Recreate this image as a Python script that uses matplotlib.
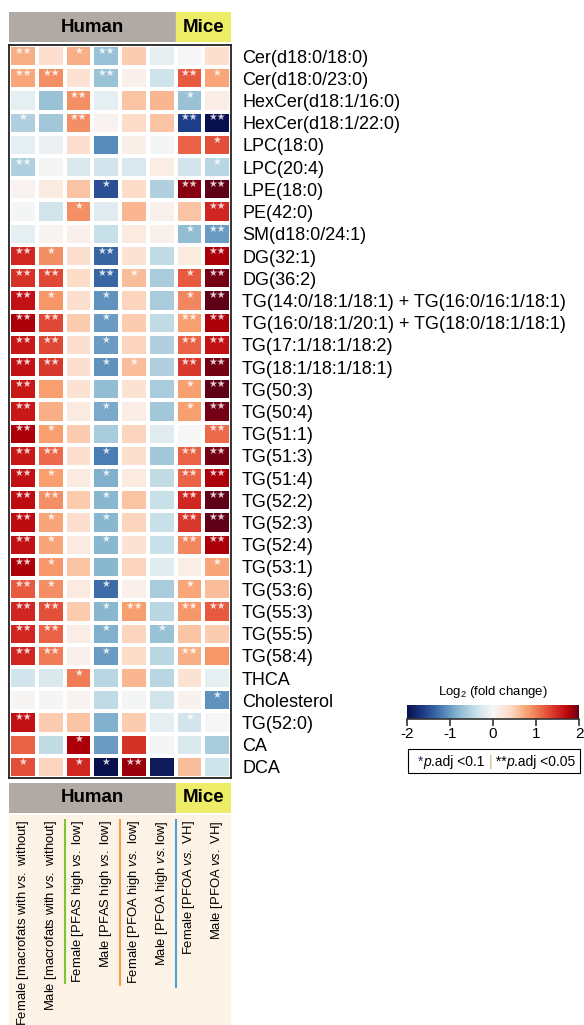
import matplotlib as mpl
import matplotlib.pyplot as plt
import numpy as np
from matplotlib.colors import LinearSegmentedColormap, Normalize
from matplotlib.patches import Rectangle

mpl.rcParams['font.family'] = 'Liberation Sans'
mpl.rcParams['mathtext.fontset'] = 'custom'
mpl.rcParams['mathtext.rm'] = 'Liberation Sans'
mpl.rcParams['mathtext.it'] = 'Liberation Sans:italic'

# row / column labels
lipids = ['Cer(d18:0/18:0)', 'Cer(d18:0/23:0)', 'HexCer(d18:1/16:0)', 'HexCer(d18:1/22:0)',
          'LPC(18:0)', 'LPC(20:4)', 'LPE(18:0)', 'PE(42:0)', 'SM(d18:0/24:1)',
          'DG(32:1)', 'DG(36:2)',
          'TG(14:0/18:1/18:1) + TG(16:0/16:1/18:1)',
          'TG(16:0/18:1/20:1) + TG(18:0/18:1/18:1)',
          'TG(17:1/18:1/18:2)', 'TG(18:1/18:1/18:1)', 'TG(50:3)', 'TG(50:4)', 'TG(51:1)',
          'TG(51:3)', 'TG(51:4)', 'TG(52:2)', 'TG(52:3)', 'TG(52:4)', 'TG(53:1)', 'TG(53:6)',
          'TG(55:3)', 'TG(55:5)', 'TG(58:4)', 'THCA', 'Cholesterol', 'TG(52:0)', 'CA', 'DCA']

columns = ['Female [macrofats with $\\mathit{vs.}$ without]',
           'Male [macrofats with $\\mathit{vs.}$ without]',
           'Female [PFAS high $\\mathit{vs.}$ low]',
           'Male [PFAS high $\\mathit{vs.}$ low]',
           'Female [PFOA high $\\mathit{vs.}$ low]',
           'Male [PFOA high $\\mathit{vs.}$low]',
           'Female [PFOA $\\mathit{vs.}$ VH]',
           'Male [PFOA $\\mathit{vs.}$ VH]']

# log2 fold change, one list per column
f_macro = [0.7, 0.75, -0.15, -0.55, -0.15, -0.55, 0.05, -0.03, -0.15, 1.5, 1.45, 1.65, 1.8,
           1.6, 1.65, 1.6, 1.6, 1.8, 1.6, 1.65, 1.7, 1.7, 1.65, 1.8, 1.2, 1.5, 1.5, 1.5,
           -0.3, 0.02, 1.65, 1.15, 1.25]
m_macro = [0.35, 0.9, -0.7, -0.65, -0.1, -0.03, 0.2, -0.3, 0.05, 0.9, 1.3, 0.85, 1.3,
           1.3, 1.4, 0.8, 0.7, 0.8, 1.1, 0.8, 0.9, 0.75, 0.75, 0.85, 0.9, 1.25, 1.15, 1.0,
           -0.25, -0.03, 0.5, -0.45, 0.45]
f_pfas = [0.7, 0.3, 0.9, 0.9, 0.35, -0.25, 0.55, 0.9, 0.1, 0.35, 0.4, 0.35, 0.5,
          0.35, 0.35, 0.3, 0.2, 0.5, 0.35, 0.2, 0.5, 0.35, 0.2, 0.55, 0.2, 0.5, 0.15, 0.1,
          1.0, 0.05, 0.55, 1.8, 1.5]
m_pfas = [-0.7, -0.7, -0.15, 0.05, -1.1, -0.3, -1.5, -0.2, -0.4, -1.35, -1.35, -1.05, -1.0,
          -1.0, -1.05, -0.75, -0.9, -0.6, -1.2, -0.85, -0.8, -0.8, -0.8, -0.8, -1.3, -0.8,
          -0.85, -1.0, -0.5, -0.45, -0.85, -1.0, -2.0]
f_pfoa = [0.5, 0.1, 0.55, 0.4, 0.12, -0.25, 0.4, 0.65, 0.2, 0.3, 0.6, 0.45, 0.5,
          0.45, 0.6, 0.3, 0.15, 0.45, 0.35, 0.2, 0.55, 0.45, 0.3, 0.45, 0.1, 0.8, 0.45, 0.4,
          0.65, -0.03, 0.5, 1.45, 1.85]
m_pfoa = [-0.15, -0.35, 0.65, 0.55, -0.02, 0.15, -0.55, 0.1, 0.1, -0.45, -0.6, -0.6, -0.45,
          -0.55, -0.55, -0.6, -0.65, -0.2, -0.65, -0.45, -0.4, -0.4, -0.4, -0.2, -0.6, -0.5,
          -0.7, -0.5, -0.5, -0.3, -0.15, -0.03, -1.9]
f_mice = [0.0, 1.2, -0.7, -1.6, 1.15, -0.3, 1.9, 0.55, -0.75, 0.2, 1.2, 0.95, 0.8,
          1.15, 1.4, 0.8, 0.8, 0.0, 1.15, 1.15, 1.5, 1.4, 0.95, 0.15, 0.75, 0.85, 0.55, 0.7,
          0.3, 0.08, -0.3, -0.25, 0.6]
m_mice = [0.35, 0.75, 0.15, -2.0, 1.25, -0.5, 2.0, 1.5, -1.0, 1.8, 1.95, 2.0, 1.8,
          1.65, 1.95, 2.0, 1.95, 1.1, 1.95, 1.8, 2.0, 2.0, 1.8, 0.75, 0.6, 1.2, 0.5, 0.85,
          -0.15, -1.05, 0.0, -0.6, -0.35]

# significance: 1 = *p.adj<0.1, 2 = **p.adj<0.05
sig_f_macro = [2, 2, 0, 1, 0, 2, 0, 0, 0, 2, 2, 2, 2, 2, 2, 2, 2, 2, 2, 2, 2, 2, 2, 2, 2, 2, 2, 2, 0, 0, 2, 0, 1]
sig_m_macro = [0, 2, 0, 0, 0, 0, 0, 0, 0, 1, 2, 1, 2, 2, 2, 0, 0, 1, 2, 1, 2, 1, 1, 1, 1, 2, 2, 2, 0, 0, 0, 0, 0]
sig_f_pfas = [1, 0, 2, 2, 0, 0, 0, 1, 0, 0, 0, 0, 0, 0, 0, 0, 0, 0, 0, 0, 0, 0, 0, 0, 0, 0, 0, 0, 1, 0, 0, 1, 1]
sig_m_pfas = [2, 2, 0, 0, 0, 0, 1, 0, 0, 2, 2, 1, 1, 1, 1, 0, 1, 0, 1, 1, 1, 1, 1, 0, 1, 1, 1, 1, 0, 0, 0, 0, 1]
sig_f_pfoa = [0, 0, 0, 0, 0, 0, 0, 0, 0, 0, 1, 0, 0, 0, 1, 0, 0, 0, 0, 0, 0, 0, 0, 0, 0, 2, 0, 0, 0, 0, 0, 0, 2]
sig_m_pfoa = [0, 0, 0, 0, 0, 0, 0, 0, 0, 0, 0, 0, 0, 0, 0, 0, 0, 0, 0, 0, 0, 0, 0, 0, 0, 0, 1, 0, 0, 0, 0, 0, 0]
sig_f_mice = [0, 2, 1, 2, 0, 0, 2, 0, 1, 0, 1, 1, 2, 2, 2, 1, 1, 0, 2, 2, 2, 2, 2, 0, 1, 2, 0, 2, 0, 0, 1, 0, 0]
sig_m_mice = [0, 1, 0, 2, 1, 1, 2, 2, 2, 2, 2, 2, 2, 2, 2, 2, 2, 2, 2, 2, 2, 2, 2, 1, 0, 2, 0, 0, 0, 1, 0, 0, 0]

values = np.array([f_macro, m_macro, f_pfas, m_pfas, f_pfoa, m_pfoa, f_mice, m_mice]).T
sigs = [sig_f_macro, sig_m_macro, sig_f_pfas, sig_m_pfas, sig_f_pfoa, sig_m_pfoa, sig_f_mice, sig_m_mice]

# colour ramp sampled from the reference colour key
cmap = LinearSegmentedColormap.from_list('rdbu', [
    (0.00, '#08104d'), (0.10, '#1f3f8a'), (0.20, '#4a7db3'), (0.30, '#8ab8d0'),
    (0.40, '#c8e0e8'), (0.50, '#f7f7f7'), (0.60, '#fddcc8'), (0.70, '#f8a070'),
    (0.80, '#e85a40'), (0.90, '#c81818'), (0.95, '#b00008'), (1.00, '#600018')])

W, H = 584, 1025
fig = plt.figure(figsize=(W / 100, H / 100), dpi=100)


def box(x0, y0, x1, y1):
    # pixel box -> figure fraction
    return [x0 / W, 1 - y1 / H, (x1 - x0) / W, (y1 - y0) / H]


# heatmap
ax = fig.add_axes(box(9, 45, 231, 778))
ax.pcolormesh(values, cmap=cmap, vmin=-2, vmax=2, edgecolors='white', linewidth=1.5)
ax.set_xlim(0, 8)
ax.set_ylim(len(lipids), 0)
ax.set_xticks([])
ax.yaxis.tick_right()
ax.set_yticks(np.arange(len(lipids)) + 0.5)
ax.set_yticklabels(lipids, fontsize=13)
ax.tick_params(axis='y', length=0, pad=8)
for s in ax.spines.values():
    s.set_linewidth(1.3)
    s.set_edgecolor('#222222')

for j, sig in enumerate(sigs):
    for i, s in enumerate(sig):
        if s:
            ax.text(j + 0.5, i + 0.26, '\u2605' * s, ha='center', va='center', color='white',
                    alpha=0.8, fontsize=7, family='DejaVu Sans')

# Human / Mice headers (top and bottom)
for y0, y1 in [(12, 42), (783, 813)]:
    hx = fig.add_axes(box(9, y0, 231, y1))
    hx.set_xlim(0, 8)
    hx.set_ylim(0, 1)
    hx.axis('off')
    hx.add_patch(Rectangle((0, 0), 6, 1, color='#b1aaa4'))
    hx.add_patch(Rectangle((6, 0), 2, 1, color='#ecec66'))
    hx.text(3, 0.5, 'Human', ha='center', va='center', fontsize=13.5, fontweight='bold')
    hx.text(7, 0.5, 'Mice', ha='center', va='center', fontsize=13.5, fontweight='bold')

# column labels
lx = fig.add_axes(box(9, 815, 231, 1025))
lx.set_xlim(0, 8)
lx.set_ylim(210, 0)
lx.set_facecolor('#fdf3e6')
lx.set_xticks([])
lx.set_yticks([])
for s in lx.spines.values():
    s.set_visible(False)
for j, lab in enumerate(columns):
    lx.text(j + 0.5, 5, lab, rotation=90, ha='center', va='top', fontsize=9.4)
lx.plot([2, 2], [5, 168], color='#7cc636', lw=1.5)
lx.plot([4, 4], [5, 170], color='#f5a043', lw=1.5)
lx.plot([6, 6], [5, 172], color='#4da3d4', lw=1.5)

# colour key
cax = fig.add_axes(box(407, 705, 579, 719))
sm = mpl.cm.ScalarMappable(norm=Normalize(-2, 2), cmap=cmap)
cb = fig.colorbar(sm, cax=cax, orientation='horizontal', ticks=[-2, -1, 0, 1, 2])
cb.outline.set_visible(False)
cax.set_xticklabels(['-2', '-1', '0', '1', '2'])
cax.tick_params(length=5, width=1.2, color='#333333', labelsize=11, pad=1)
cax.plot([-2, 2], [0, 0], color='#333333', lw=1.2, clip_on=False)
fig.text(493 / W, 1 - 692 / H, 'Log$_2$ (fold change)', ha='center', va='center', fontsize=9.5)

# significance legend
fig.add_artist(Rectangle((408 / W, 1 - 773 / H), 172 / W, 24 / H, transform=fig.transFigure,
                         fill=False, lw=0.8, ec='black'))
fig.canvas.draw()
r = fig.canvas.get_renderer()
x = 418
pieces = [('*', '#2b2b7a', 'normal'), ('p', 'black', 'italic'), ('.adj <0.1 ', 'black', 'normal'),
          ('|', '#cdb57e', 'normal'), (' **', 'black', 'normal'), ('p', 'black', 'italic'),
          ('.adj <0.05', 'black', 'normal')]
for s, c, st in pieces:
    t = fig.text(x / W, 1 - 766 / H, s, color=c, style=st, fontsize=10, va='baseline')
    x = t.get_window_extent(r).x1

fig.savefig('out.png', dpi=100)
